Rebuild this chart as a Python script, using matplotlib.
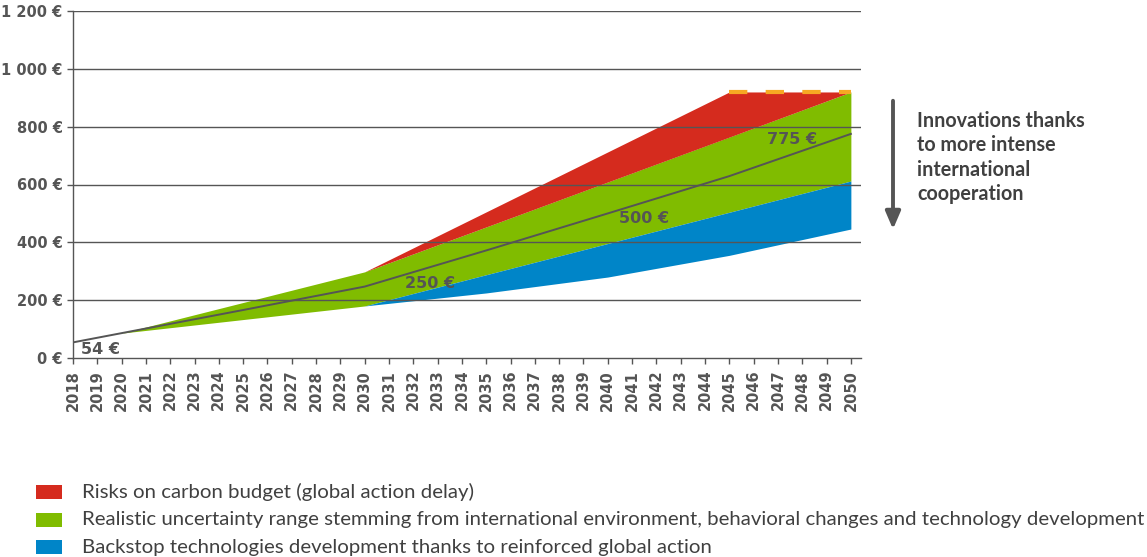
import matplotlib
matplotlib.use("Agg")
import matplotlib.pyplot as plt
import numpy as np

# ---------------- data ----------------
years_central = [2018, 2020, 2025, 2030, 2035, 2040, 2045, 2050]
price_central = [54, 86, 166, 247, 372, 500, 629, 775]

years_green = [2020, 2030, 2050]
green_low = [86, 180, 612]
green_high = [86, 298, 920]

years_red = [2030, 2045, 2050]
red_low = [298, 764, 920]
red_high = [298, 920, 920]

years_blue = [2030, 2035, 2040, 2045, 2050]
blue_low = [180, 225, 280, 355, 446]
blue_high = [180, 288, 396, 504, 612]

years_cap = [2045, 2050]
price_cap = [920, 920]

x_ticks = list(range(2018, 2051))
y_ticks = [0, 200, 400, 600, 800, 1000, 1200]
y_labels = ["0 €", "200 €", "400 €", "600 €", "800 €", "1 000 €", "1 200 €"]

value_labels = ["54 €", "250 €", "500 €", "775 €"]
value_label_x = [2019.15, 2032.7, 2041.5, 2047.6]
value_label_y = [28, 259, 481, 757]

legend_labels = [
    "Risks on carbon budget (global action delay)",
    "Realistic uncertainty range stemming from international environment, behavioral changes and technology development",
    "Backstop technologies development thanks to reinforced global action",
]
annotation_text = "Innovations thanks\nto more intense\ninternational\ncooperation"

RED = "#d52b1e"
GREEN = "#80bc00"
BLUE = "#0085c8"
ORANGE = "#f7a823"
GRAY = "#555555"
TXT = "#404040"

# ---------------- figure ----------------
fig = plt.figure(figsize=(11.47, 5.57), dpi=100)
ax = fig.add_axes([73/1147, 1-358/557, (860.6-73)/1147, (358-11)/557])

ax.fill_between(years_green, green_low, green_high, color=GREEN, lw=0, zorder=1)
ax.fill_between(years_red, red_low, red_high, color=RED, lw=0, zorder=1)
ax.fill_between(years_blue, blue_low, blue_high, color=BLUE, lw=0, zorder=1)

for yv in y_ticks[1:]:
    ax.axhline(yv, color=GRAY, lw=1.0, zorder=2)

ax.plot(years_central, price_central, color=GRAY, lw=1.4, zorder=3)
ax.plot(years_cap, price_cap, color=ORANGE, lw=3.0, dashes=(4.4, 4.4), zorder=4,
        solid_capstyle="butt", dash_capstyle="butt")

for t, xv, yv in zip(value_labels, value_label_x, value_label_y):
    ax.text(xv, yv, t, ha="center", va="center", fontsize=11.5, color=GRAY,
            fontfamily="DejaVu Sans", fontweight="semibold", zorder=5)

ax.set_xlim(2018, 2050.4)
ax.set_ylim(0, 1200)
ax.set_xticks(x_ticks)
ax.set_xticklabels([str(x) for x in x_ticks], rotation=90, fontsize=10.5,
                   fontweight="bold", color=GRAY)
ax.set_yticks(y_ticks)
ax.set_yticklabels(y_labels, fontsize=10.5, fontweight="bold", color=GRAY)
ax.tick_params(axis="x", direction="out", length=4, width=1, color=GRAY, pad=4.5)
ax.tick_params(axis="y", direction="out", length=4.5, width=1, color=GRAY, pad=3)
for s in ["top", "right"]:
    ax.spines[s].set_visible(False)
for s in ["left", "bottom"]:
    ax.spines[s].set_color(GRAY)
    ax.spines[s].set_linewidth(1.0)

# arrow + annotation
fig.patches.append(matplotlib.patches.FancyArrowPatch(
    (893/1147, 1-98/557), (893/1147, 1-232/557), transform=fig.transFigure,
    arrowstyle="-|>,head_length=7,head_width=3", color=GRAY, lw=2.8,
    mutation_scale=1.5))
fig.text(917/1147, 1-111/557, annotation_text, ha="left", va="top",
         fontsize=14.2, fontweight="bold", color=TXT, fontfamily="Lato",
         linespacing=1.27)

# legend
for i, (lab, col) in enumerate(zip(legend_labels, [RED, GREEN, BLUE])):
    yc = 492 + i*27.5
    fig.patches.append(matplotlib.patches.Rectangle(
        (36/1147, 1-(yc+7)/557), 26/1147, 14/557, transform=fig.transFigure,
        color=col, lw=0))
    fig.text(82/1147, 1-yc/557, lab, ha="left", va="center", fontsize=14.7,
             color=TXT, fontfamily="Lato")

fig.savefig("out.png", dpi=100)
